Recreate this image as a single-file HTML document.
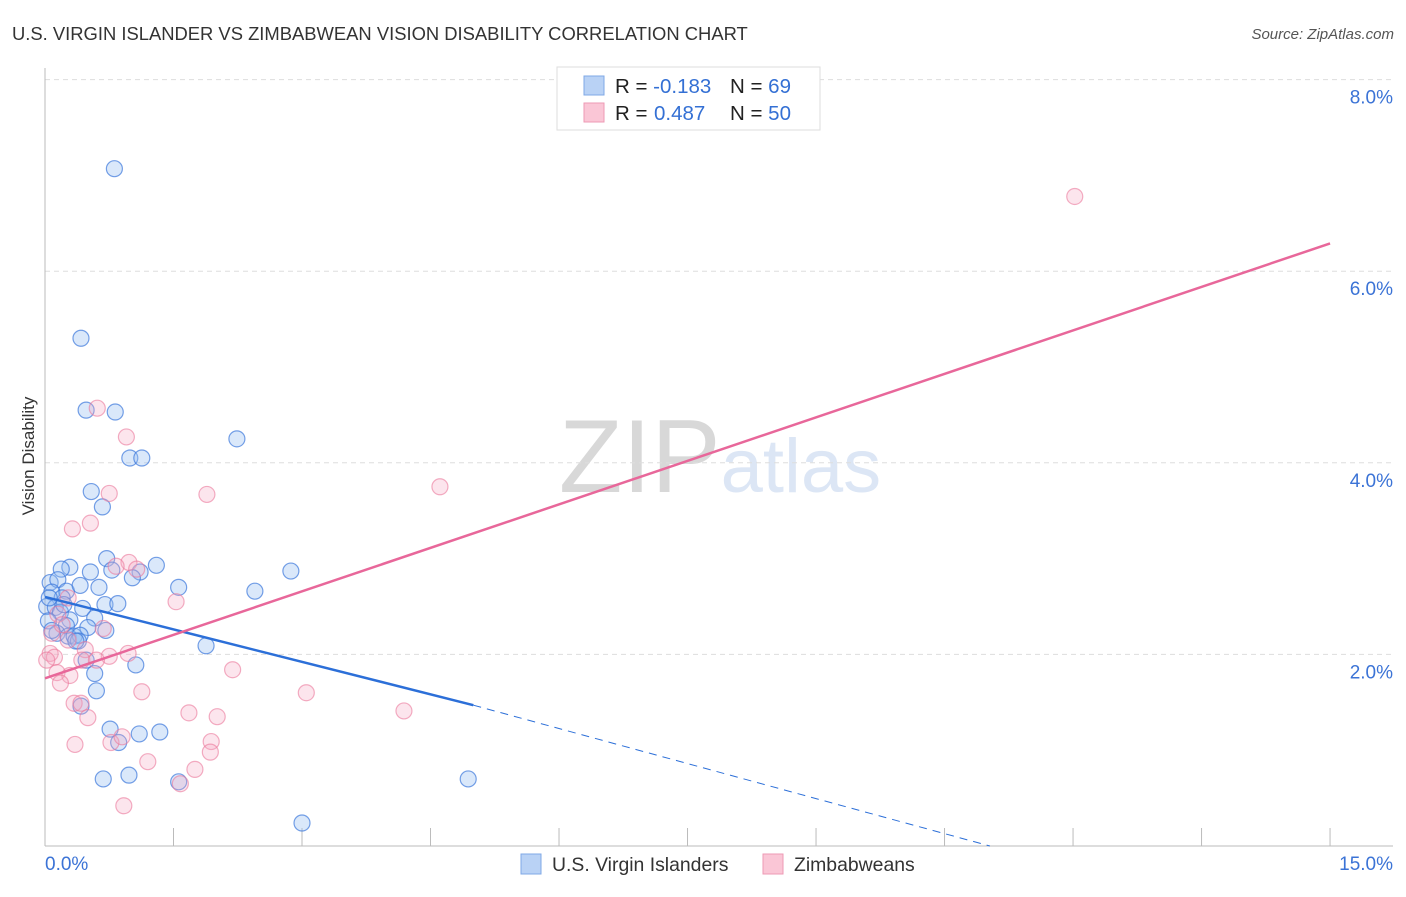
<!DOCTYPE html>
<html><head><meta charset="utf-8">
<style>
body{margin:0;background:#fff;font-family:"Liberation Sans",sans-serif;}
svg text{font-family:"Liberation Sans",sans-serif;}
</style></head>
<body>
<svg id="chart" width="1406" height="892" xmlns="http://www.w3.org/2000/svg">
<text x="12" y="40" font-size="18.4" fill="#333">U.S. VIRGIN ISLANDER VS ZIMBABWEAN VISION DISABILITY CORRELATION CHART</text>
<text x="1394" y="39" font-size="15" fill="#555" text-anchor="end" font-style="italic">Source: ZipAtlas.com</text>
<text x="34" y="456" font-size="17" fill="#333" text-anchor="middle" transform="rotate(-90 34 456)">Vision Disability</text>
<text x="720" y="492" font-size="104" fill="#ddd" text-anchor="middle" font-family="Liberation Serif"><tspan fill="#d8d8d8">ZIP</tspan><tspan fill="#dce6f5" font-family="Liberation Sans" font-size="76">atlas</tspan></text>
<g id="grid"></g><g id="axes"></g><g id="pts"></g><g id="lines"></g>
<g>
<rect x="557" y="67" width="263" height="63" fill="#fff" stroke="#ddd"/>
<rect x="584" y="76" width="20" height="19" fill="#b9d2f5" stroke="#7fa8e6"/>
<rect x="584" y="103" width="20" height="19" fill="#fac6d6" stroke="#ee9ab4"/>
<text x="615" y="93" font-size="20.5" fill="#222">R = <tspan fill="#3470d4">-0.183</tspan><tspan x="730">N = </tspan><tspan fill="#3470d4">69</tspan></text>
<text x="615" y="120" font-size="20.5" fill="#222">R = <tspan fill="#3470d4" x="654">0.487</tspan><tspan x="730">N = </tspan><tspan fill="#3470d4">50</tspan></text>
</g>
<g>
<rect x="521" y="854" width="20" height="20" fill="#b9d2f5" stroke="#7fa8e6"/>
<text x="552" y="871" font-size="19.4" fill="#333">U.S. Virgin Islanders</text>
<rect x="763" y="854" width="20" height="20" fill="#fac6d6" stroke="#ee9ab4"/>
<text x="794" y="871" font-size="19.4" fill="#333">Zimbabweans</text>
</g>
</svg>
<script>
const blueX=[0.81,0.42,0.48,0.82,2.24,0.99,1.13,0.54,0.67,0.72,1.30,0.29,0.19,0.53,1.11,0.78,1.02,0.06,0.15,1.56,0.63,2.45,2.87,0.25,0.08,0.20,0.02,0.70,0.85,0.12,0.44,0.18,0.58,0.29,0.04,0.25,0.50,0.71,0.14,0.27,0.34,0.41,0.39,1.88,0.48,1.06,0.58,0.60,0.42,0.76,1.10,1.34,0.86,0.68,0.98,1.56,4.94,3.00,0.08,0.22,0.41,0.36,0.05];
const blueY=[7.07,5.30,4.55,4.53,4.25,4.05,4.05,3.70,3.54,3.00,2.93,2.91,2.89,2.86,2.86,2.88,2.80,2.75,2.78,2.70,2.70,2.66,2.87,2.66,2.65,2.59,2.50,2.52,2.53,2.49,2.48,2.44,2.38,2.36,2.35,2.30,2.28,2.25,2.22,2.19,2.19,2.20,2.14,2.09,1.94,1.89,1.80,1.62,1.46,1.22,1.17,1.19,1.08,0.70,0.74,0.67,0.70,0.24,2.25,2.52,2.72,2.14,2.59];
const pinkX=[12.02,0.61,0.95,0.75,1.89,4.61,0.53,0.32,0.98,0.83,1.07,1.53,0.27,0.15,0.08,0.68,0.47,0.75,0.97,0.43,0.06,0.11,2.19,0.14,0.29,0.18,1.13,3.05,0.34,0.42,4.19,1.68,2.01,0.50,1.94,0.35,0.77,0.90,1.93,1.20,1.75,1.58,0.92,0.27,0.20,0.02,0.60];
const pinkY=[6.78,4.57,4.27,3.68,3.67,3.75,3.37,3.31,2.96,2.92,2.89,2.55,2.59,2.42,2.22,2.27,2.05,1.98,2.01,1.94,2.01,1.97,1.84,1.81,1.78,1.70,1.61,1.60,1.49,1.49,1.41,1.39,1.35,1.34,1.09,1.06,1.08,1.14,0.98,0.88,0.80,0.65,0.42,2.15,2.31,1.94,1.94];
const blueLine=[[0,2.6],[5.0,1.47]], blueDash=[[5.0,1.47],[11.03,0]];
const pinkLine=[[0,1.75],[15,6.29]];
const yTicks=[2,4,6,8], yTickLabels=["2.0%","4.0%","6.0%","8.0%"];
const NS="http://www.w3.org/2000/svg";
const X=v=>45+v*85.67, Y=v=>846-v*95.8;
function mk(tag,parent,attrs){const e=document.createElementNS(NS,tag);for(const k in attrs)e.setAttribute(k,attrs[k]);document.getElementById(parent).appendChild(e);return e;}
yTicks.forEach((t,i)=>{
 const l=mk('line','grid',{x1:45,x2:1393,y1:Y(t),y2:Y(t),stroke:'#ddd','stroke-dasharray':'5,4'});
 
 
 const tx=mk('text','grid',{x:1393,y:Y(t)+24,'font-size':19,fill:'#3b73d6','text-anchor':'end'});
 tx.textContent=yTickLabels[i];
 
 
});
mk('line','axes',{x1:45,x2:45,y1:68,y2:846,stroke:'#bbb'});
mk('line','axes',{x1:45,x2:1393,y1:846,y2:846,stroke:'#bbb'});
for(let i=1;i<=10;i++){mk('line','axes',{x1:X(i*1.5),x2:X(i*1.5),y1:828,y2:846,stroke:'#bbb'});}
let a=mk('text','axes',{x:45,y:870,'font-size':19,fill:'#3b73d6'});a.textContent='0.0%';


a=mk('text','axes',{x:1393,y:870,'font-size':19,fill:'#3b73d6','text-anchor':'end'});a.textContent='15.0%';


blueX.forEach((x,i)=>{const c=mk('circle','pts',{cx:X(x),cy:Y(blueY[i]),r:8,fill:'rgba(150,190,240,0.35)',stroke:'rgba(60,120,220,0.7)','stroke-width':1.2});
 
 });
pinkX.forEach((x,i)=>{const c=mk('circle','pts',{cx:X(x),cy:Y(pinkY[i]),r:8,fill:'rgba(245,170,195,0.3)',stroke:'rgba(235,120,155,0.6)','stroke-width':1.2});
 
 });
let l=mk('line','lines',{x1:X(blueLine[0][0]),y1:Y(blueLine[0][1]),x2:X(blueLine[1][0]),y2:Y(blueLine[1][1]),stroke:'#2c6fd8','stroke-width':2.5});


l=mk('line','lines',{x1:X(blueDash[0][0]),y1:Y(blueDash[0][1]),x2:X(blueDash[1][0]),y2:Y(blueDash[1][1]),stroke:'#2c6fd8','stroke-width':1,'stroke-dasharray':'8,6'});


l=mk('line','lines',{x1:X(pinkLine[0][0]),y1:Y(pinkLine[0][1]),x2:X(pinkLine[1][0]),y2:Y(pinkLine[1][1]),stroke:'#e8679a','stroke-width':2.5});


</script>
</body></html>
